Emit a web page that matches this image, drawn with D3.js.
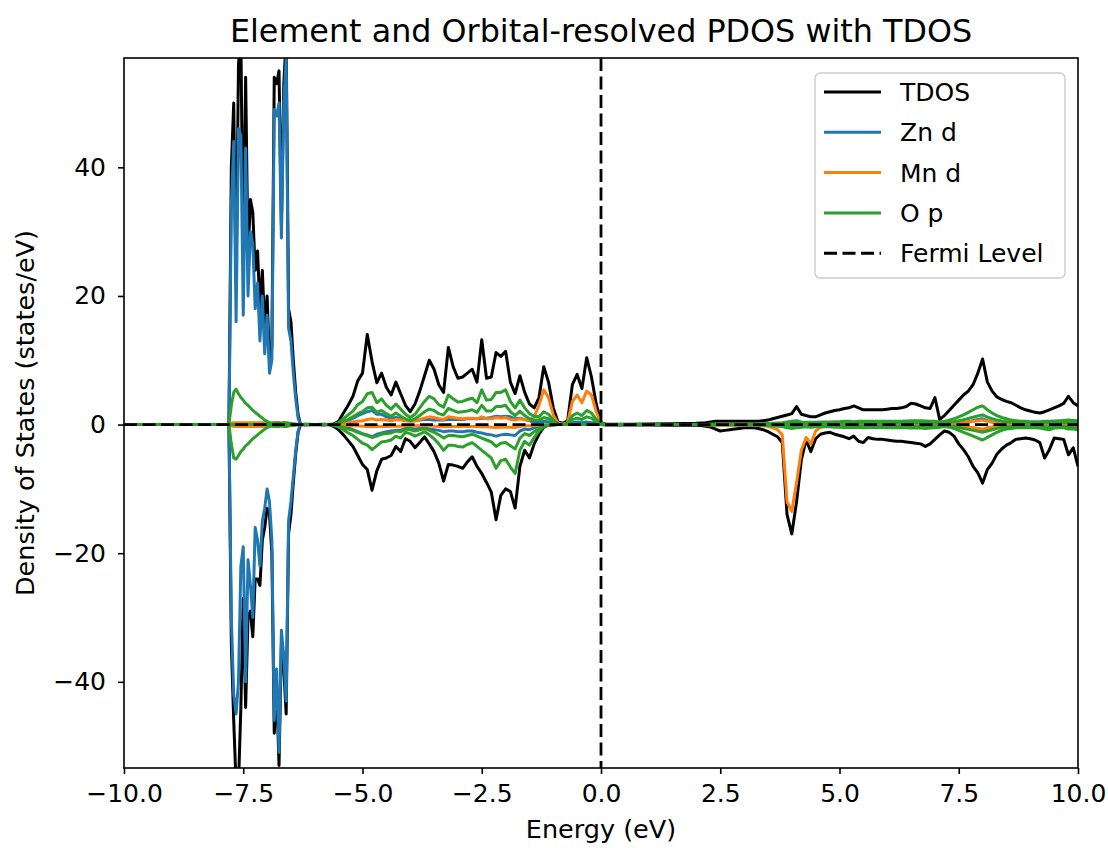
<!DOCTYPE html>
<html><head><meta charset="utf-8">
<script src="https://cdn.jsdelivr.net/npm/d3@7"></script>
<style>body{margin:0;background:#fff;} svg text{font-family:"DejaVu Sans",sans-serif;fill:#000;}</style>
</head><body>
<svg id="chart" width="1108" height="848"></svg>
<script>
// ---------- DATA ----------
const energy = [
  -10,-9,-8,-7.85,
  -7.8,-7.75,-7.7,-7.65,-7.6,-7.55,-7.5,-7.45,-7.4,-7.35,-7.3,-7.25,-7.2,-7.15,-7.1,-7.05,-7,-6.95,-6.9,-6.85,-6.8,-6.75,-6.7,-6.65,-6.6,-6.55,-6.5,-6.45,-6.4,-6.35,-6.3,
  -6.2,-6,-5.8,
  -5.7,-5.6,-5.5,-5.4,-5.3,-5.2,-5.1,-5,-4.9,-4.8,
  -4.7,-4.6,-4.5,-4.4,-4.3,-4.2,-4.1,-4,-3.9,-3.8,
  -3.7,-3.6,-3.5,-3.4,-3.3,-3.2,-3.1,-3,-2.9,-2.8,
  -2.7,-2.6,-2.5,-2.4,-2.3,-2.2,-2.1,-2,-1.9,-1.8,
  -1.7,-1.6,-1.5,-1.4,-1.3,-1.2,-1.1,-1,-0.9,-0.8,
  -0.7,-0.6,-0.5,-0.4,-0.3,-0.2,-0.1,0,
  0.1,0.3,0.6,1,1.5,
  2,2.1,2.2,2.3,2.4,2.5,2.6,2.7,2.8,2.9,
  3,3.1,3.2,3.3,3.4,3.5,3.6,3.7,3.8,3.9,
  4,4.1,4.2,4.3,4.4,4.5,4.6,4.7,4.8,4.9,
  5,5.1,5.2,5.3,5.4,5.5,5.6,5.7,5.8,5.9,
  6,6.1,6.2,6.3,6.4,6.5,6.6,6.7,6.8,6.9,
  7,7.1,7.2,7.3,7.4,7.5,7.6,7.7,7.8,7.9,
  8,8.1,8.2,8.3,8.4,8.5,8.6,8.7,8.8,8.9,
  9,9.1,9.2,9.3,9.4,9.5,9.6,9.7,9.8,9.9,
  10
];

const tdosUp = [
  0,0,0,0,
  0,40,50,22,56,60,25,54,26,35,33,24,27,18,24,15,20,10,12,54,53,55,31,53,60,18,16,10,5,1.5,0,
  0.05,0,0.05,
  0,0.1,0.5,1.8,3.0,4.4,6.8,8.0,14.0,9.8,
  6.5,8.0,5.8,4.6,6.6,4.8,3.0,2.0,3.2,5.2,
  7.6,10.0,8.6,6.2,5.0,12.0,9.0,7.2,7.4,8.0,
  8.6,6.6,13.2,7.2,7.4,11.2,10.6,11.4,6.6,4.8,
  7.6,5.0,3.2,2.6,4.2,9.0,6.6,2.6,0.4,0.2,
  0.6,6.2,7.8,5.6,10.4,7.4,3.2,0.3,
  0.05,0.05,0.05,0.08,0.12,
  0.2,0.25,0.3,0.4,0.5,0.5,0.5,0.5,0.5,0.5,
  0.5,0.5,0.5,0.5,0.6,0.7,0.9,1.1,1.3,1.5,
  1.7,2.8,1.6,1.4,1.2,1.2,1.5,1.8,2.0,2.2,
  2.3,2.5,2.6,2.9,2.6,2.3,2.3,2.3,2.3,2.3,
  2.4,2.5,2.5,2.6,2.8,3.3,3.2,2.9,2.6,2.5,
  4.2,0.8,1.4,2.2,3.0,3.8,4.6,5.2,6.2,8.0,
  10.2,6.6,5.2,4.3,3.9,3.6,3.4,3.0,2.6,2.3,
  2.1,1.9,1.8,2.0,2.3,2.6,2.9,3.3,4.4,3.4,
  2.9
];
const tdosDown = [
  0,0,0,0,
  0,-34,-46,-56,-56,-44,-27,-44,-30,-29,-33,-24,-24,-25,-18,-16,-13,-14,-20,-48,-41,-53,-34,-38,-45,-17,-14,-9,-4.5,-1.2,0,
  -0.05,0,-0.05,
  0,-0.3,-0.8,-1.6,-2.5,-3.4,-4.8,-6.2,-7.0,-10.2,
  -7.2,-5.4,-5.2,-4.8,-3.4,-4.2,-2.2,-2.6,-3.6,-2.8,
  -1.9,-3.0,-4.2,-6.0,-8.8,-6.2,-6.3,-6.5,-6.8,-5.8,
  -5.0,-6.5,-7.6,-9.0,-10.5,-14.8,-11.0,-10.0,-10.4,-13.0,
  -6.5,-4.0,-5.2,-3.0,-1.5,-0.4,-0.1,-0.05,0,0,
  0,0,0,0,0,0,0,0,
  -0.05,-0.05,-0.05,-0.08,-0.12,
  -0.1,-0.15,-0.25,-0.4,-0.7,-1.0,-0.9,-0.8,-0.7,-0.6,
  -0.5,-0.5,-0.5,-0.6,-0.8,-1.1,-1.5,-1.9,-2.8,-14.0,
  -17.0,-12.0,-5.5,-2.4,-4.2,-2.2,-1.5,-1.3,-1.2,-1.5,
  -1.7,-1.9,-2.2,-1.8,-2.6,-2.8,-2.0,-2.2,-2.3,-2.3,
  -2.4,-2.5,-2.6,-2.6,-2.7,-2.8,-2.9,-3.0,-3.4,-3.0,
  -2.3,-1.6,-1.0,-1.2,-1.8,-3.0,-3.9,-5.0,-6.5,-7.5,
  -9.1,-7.0,-6.0,-4.6,-3.8,-3.2,-2.8,-2.3,-2.2,-2.1,
  -2.2,-2.4,-2.8,-5.2,-3.9,-2.1,-2.2,-2.3,-4.7,-3.6,
  -6.5
];

const znUp = [
  0,0,0,0,
  0,34,44,16,46,45,17,43,20,30,28,18,22,13,20,11,17,8,10,49,48,50,29,50,57,15,13,8,4,1,0,
  0,0,0,
  0,0,0.1,0.3,0.6,1.0,1.4,1.7,2.0,2.2,
  1.6,1.6,1.2,1.0,1.1,0.9,0.7,0.6,0.6,0.7,
  0.8,0.8,0.7,0.7,0.7,0.8,0.8,0.8,0.8,0.9,
  0.9,0.9,1.0,1.0,1.1,1.3,1.2,1.3,1.2,0.9,
  1.0,0.8,0.6,0.4,0.4,0.5,0.4,0.2,0,0,
  0.05,0.3,0.4,0.3,0.4,0.3,0.2,0,
  0,0,0,0,0,
  0,0,0,0,0,0,0,0,0,0,
  0,0,0,0,0.05,0.05,0.05,0.05,0.05,0.05,
  0.05,0.05,0.05,0.05,0.05,0.05,0.05,0.05,0.05,0.05,
  0.05,0.05,0.05,0.05,0.05,0.05,0.05,0.05,0.05,0.05,
  0.05,0.05,0.05,0.05,0.05,0.05,0.05,0.05,0.05,0.05,
  0.05,0.05,0.05,0.1,0.15,0.2,0.3,0.4,0.6,0.8,
  0.9,0.6,0.4,0.3,0.2,0.15,0.1,0.05,0.05,0.05,
  0.05,0.05,0.05,0.05,0.05,0.05,0.05,0.05,0.05,0.05,
  0.05
];
const znDown = [
  0,0,0,0,
  0,-30,-42,-45,-40,-22,-19,-40,-21,-25,-30,-16,-18,-22,-15,-13,-10,-12,-18,-46,-38,-51,-32,-36,-43,-15,-12,-8,-4,-1,0,
  0,0,0,
  0,0,-0.1,-0.3,-0.5,-0.8,-1.1,-1.4,-1.6,-1.9,
  -1.5,-1.3,-1.1,-1.0,-0.9,-0.9,-0.6,-0.6,-0.7,-0.6,
  -0.5,-0.7,-0.8,-0.9,-1.1,-1.0,-1.0,-1.1,-1.1,-1.0,
  -1.0,-1.2,-1.3,-1.5,-1.6,-1.8,-1.6,-1.5,-1.6,-1.7,
  -1.0,-0.7,-0.8,-0.5,-0.3,-0.1,0,0,0,0,
  0,0,0,0,0,0,0,0,
  0,0,0,0,0,
  0,0,0,0,0,0,0,0,0,0,
  0,0,0,0,-0.05,-0.05,-0.05,-0.05,-0.05,-0.05,
  -0.05,-0.05,-0.05,-0.05,-0.05,-0.05,-0.05,-0.05,-0.05,-0.05,
  -0.05,-0.05,-0.05,-0.05,-0.05,-0.05,-0.05,-0.05,-0.05,-0.05,
  -0.05,-0.05,-0.05,-0.05,-0.05,-0.05,-0.05,-0.05,-0.05,-0.05,
  -0.05,-0.05,-0.05,-0.1,-0.15,-0.2,-0.3,-0.4,-0.5,-0.7,
  -0.8,-0.6,-0.4,-0.3,-0.2,-0.15,-0.1,-0.05,-0.05,-0.05,
  -0.05,-0.05,-0.05,-0.05,-0.05,-0.05,-0.05,-0.05,-0.05,-0.05,
  -0.05
];

const mnUp = [
  0,0,0,0,
  0,0.2,0.3,0.3,0.3,0.3,0.3,0.3,0.3,0.3,0.3,0.3,0.3,0.3,0.3,0.3,0.3,0.2,0.2,0.3,0.3,0.3,0.2,0.3,0.3,0.2,0.2,0.1,0.1,0,0,
  0,0,0,
  0,0,0.1,0.2,0.3,0.4,0.5,0.6,0.8,0.9,
  0.7,0.8,0.7,0.6,0.8,0.7,0.6,0.5,0.6,0.8,
  1.0,1.2,1.1,0.9,0.8,1.2,1.1,1.0,0.9,1.0,
  1.0,0.9,1.2,0.9,0.9,1.1,1.0,1.1,0.8,0.7,
  0.9,0.8,0.7,1.2,3.0,5.4,4.2,1.5,0.2,0.1,
  0.3,3.6,4.6,3.4,5.2,4.6,2.0,0.2,
  0,0,0,0,0,
  0,0,0,0.05,0.05,0.05,0.05,0.05,0.05,0.05,
  0.05,0.05,0.05,0.05,0.05,0.1,0.1,0.1,0.15,0.2,
  0.3,0.4,0.2,0.15,0.1,0.1,0.1,0.1,0.1,0.1,
  0.1,0.1,0.1,0.1,0.1,0.1,0.1,0.1,0.1,0.1,
  0.1,0.1,0.1,0.1,0.1,0.1,0.1,0.1,0.1,0.1,
  0.1,0.1,0.1,0.15,0.2,0.25,0.3,0.4,0.5,0.6,
  0.7,0.5,0.4,0.3,0.2,0.15,0.1,0.1,0.1,0.1,
  0.1,0.1,0.1,0.1,0.1,0.1,0.1,0.1,0.1,0.1,
  0.1
];
const mnDown = [
  0,0,0,0,
  0,-0.2,-0.3,-0.3,-0.3,-0.3,-0.3,-0.3,-0.3,-0.3,-0.3,-0.3,-0.3,-0.3,-0.3,-0.3,-0.3,-0.2,-0.2,-0.3,-0.3,-0.3,-0.2,-0.3,-0.3,-0.2,-0.2,-0.1,-0.1,0,0,
  0,0,0,
  0,0,-0.05,-0.1,-0.15,-0.2,-0.2,-0.25,-0.3,-0.35,
  -0.3,-0.3,-0.3,-0.25,-0.25,-0.25,-0.2,-0.2,-0.2,-0.2,
  -0.2,-0.2,-0.25,-0.3,-0.35,-0.3,-0.3,-0.3,-0.3,-0.3,
  -0.3,-0.3,-0.35,-0.35,-0.4,-0.45,-0.4,-0.4,-0.4,-0.45,
  -0.3,-0.2,-0.2,-0.15,-0.1,-0.05,0,0,0,0,
  0,0,0,0,0,0,0,0,
  0,0,0,0,0,
  0,0,-0.05,-0.05,-0.1,-0.1,-0.1,-0.1,-0.1,-0.1,
  -0.1,-0.1,-0.1,-0.15,-0.2,-0.3,-0.5,-0.8,-1.6,-12.0,
  -13.5,-9.0,-4.0,-2.0,-3.0,-1.0,-0.4,-0.3,-0.2,-0.2,
  -0.2,-0.2,-0.2,-0.2,-0.2,-0.2,-0.2,-0.2,-0.2,-0.2,
  -0.2,-0.2,-0.2,-0.2,-0.2,-0.2,-0.2,-0.2,-0.2,-0.2,
  -0.2,-0.2,-0.2,-0.2,-0.25,-0.3,-0.35,-0.4,-0.5,-0.6,
  -0.7,-0.5,-0.4,-0.3,-0.25,-0.2,-0.2,-0.2,-0.2,-0.2,
  -0.2,-0.2,-0.2,-0.2,-0.2,-0.2,-0.2,-0.2,-0.2,-0.2,
  -0.2
];

// O p: two oxygen sites (legend shows one entry)
const oUp = [
  0,0,0,0,
  0,3,5.0,5.5,4.8,4.2,3.8,3.3,3.0,2.6,2.2,1.9,1.6,1.3,1.0,0.7,0.5,0.3,0.2,0.3,0.3,0.3,0.2,0.3,0.3,0.2,0.1,0.1,0.05,0,0,
  0,0,0,
  0,0.05,0.3,0.9,1.5,2.1,3.1,3.6,4.8,5.0,
  3.4,4.0,3.0,2.4,3.2,2.4,1.6,1.1,1.6,2.6,
  3.6,4.4,4.0,3.1,2.7,4.6,4.0,3.5,3.6,3.9,
  4.1,3.4,5.4,3.8,3.9,5.0,5.0,5.4,3.6,2.6,
  3.8,2.6,1.7,1.3,1.2,2.0,1.6,0.7,0.1,0.05,
  0.15,1.4,1.8,1.4,2.2,1.8,0.8,0.1,
  0,0,0,0,0,
  0,0,0,0.05,0.05,0.05,0.05,0.05,0.05,0.05,
  0.05,0.05,0.05,0.1,0.1,0.15,0.2,0.25,0.3,0.4,
  0.5,0.6,0.4,0.35,0.35,0.35,0.4,0.4,0.4,0.45,
  0.45,0.5,0.5,0.45,0.5,0.5,0.5,0.5,0.5,0.5,
  0.5,0.5,0.5,0.5,0.55,0.6,0.6,0.6,0.55,0.5,
  0.5,0.4,0.5,0.7,0.9,1.2,1.5,1.9,2.3,2.7,
  2.9,2.3,1.8,1.4,1.1,0.9,0.7,0.6,0.5,0.5,
  0.45,0.45,0.45,0.5,0.5,0.55,0.6,0.65,0.7,0.65,
  0.6
];
const oDown = [
  0,0,0,0,
  0,-3,-5.2,-5.4,-4.8,-4.2,-3.8,-3.3,-3.0,-2.6,-2.2,-1.9,-1.6,-1.3,-1.0,-0.7,-0.5,-0.3,-0.2,-0.3,-0.3,-0.3,-0.2,-0.3,-0.3,-0.2,-0.1,-0.1,-0.05,0,0,
  0,0,0,
  0,-0.15,-0.4,-0.8,-1.3,-1.7,-2.3,-2.9,-3.2,-3.9,
  -3.3,-2.7,-2.6,-2.4,-1.8,-2.1,-1.2,-1.4,-1.8,-1.5,
  -1.1,-1.6,-2.2,-3.0,-4.0,-3.2,-3.2,-3.4,-3.5,-3.1,
  -2.8,-3.4,-4.0,-4.6,-5.2,-6.8,-5.6,-5.4,-6.6,-7.6,
  -4.0,-2.6,-3.2,-2.0,-1.0,-0.3,-0.1,0,0,0,
  0,0,0,0,0,0,0,0,
  0,0,0,0,0,
  0,0,0,-0.05,-0.05,-0.05,-0.05,-0.05,-0.05,-0.05,
  -0.05,-0.05,-0.05,-0.1,-0.1,-0.15,-0.2,-0.25,-0.3,-0.5,
  -0.6,-0.5,-0.4,-0.35,-0.4,-0.35,-0.35,-0.35,-0.35,-0.4,
  -0.4,-0.45,-0.45,-0.45,-0.45,-0.5,-0.45,-0.45,-0.45,-0.45,
  -0.5,-0.5,-0.5,-0.5,-0.5,-0.55,-0.55,-0.55,-0.6,-0.55,
  -0.5,-0.4,-0.3,-0.4,-0.6,-0.9,-1.2,-1.5,-1.8,-2.1,
  -2.4,-2.0,-1.6,-1.2,-0.9,-0.7,-0.6,-0.5,-0.5,-0.5,
  -0.5,-0.5,-0.55,-0.7,-0.8,-0.55,-0.5,-0.5,-0.7,-0.7,
  -0.8
];
const o2Up = [
  0,0,0,0,
  0,0,0,0,0,0,0,0,0,0,0,0,0,0,0,0,0,0,0,0,0,0,0,0,0,0,0,0,0,0,0,
  0,0,0,
  0,0,0.2,0.5,0.8,1.2,1.7,2.0,2.6,2.7,
  1.9,2.2,1.7,1.3,1.8,1.3,0.9,0.6,0.9,1.4,
  2.0,2.4,2.2,1.7,1.5,2.5,2.2,1.9,2.0,2.1,
  2.3,1.9,3.0,2.1,2.1,2.8,2.8,3.0,2.0,1.4,
  2.1,1.4,0.9,0.7,0.7,1.1,0.9,0.4,0.05,0,
  0.1,0.8,1.0,0.8,1.2,1.0,0.4,0,
  0,0,0,0,0,
  0,0,0,0,0,0,0,0,0,0,
  0,0,0,0.05,0.05,0.08,0.1,0.12,0.15,0.2,
  0.25,0.3,0.2,0.18,0.18,0.18,0.2,0.2,0.2,0.22,
  0.22,0.25,0.25,0.22,0.25,0.25,0.25,0.25,0.25,0.25,
  0.25,0.25,0.25,0.25,0.28,0.3,0.3,0.3,0.28,0.25,
  0.25,0.2,0.25,0.35,0.45,0.6,0.75,0.95,1.15,1.35,
  1.5,1.15,0.9,0.7,0.55,0.45,0.35,0.3,0.25,0.25,
  0.22,0.22,0.22,0.25,0.25,0.28,0.3,0.32,0.35,0.32,
  0.3
];
const o2Down = [
  0,0,0,0,
  0,0,0,0,0,0,0,0,0,0,0,0,0,0,0,0,0,0,0,0,0,0,0,0,0,0,0,0,0,0,0,
  0,0,0,
  0,-0.1,-0.2,-0.45,-0.7,-0.9,-1.2,-1.5,-1.7,-2.0,
  -1.8,-1.5,-1.4,-1.3,-1.0,-1.1,-0.7,-0.8,-1.0,-0.8,
  -0.6,-0.9,-1.2,-1.6,-2.1,-1.7,-1.7,-1.8,-1.9,-1.7,
  -1.5,-1.8,-2.1,-2.4,-2.7,-3.4,-2.9,-2.8,-3.3,-3.8,
  -2.1,-1.4,-1.7,-1.1,-0.6,-0.2,-0.05,0,0,0,
  0,0,0,0,0,0,0,0,
  0,0,0,0,0,
  0,0,0,0,0,0,0,0,0,0,
  0,0,0,-0.05,-0.05,-0.08,-0.1,-0.12,-0.15,-0.25,
  -0.3,-0.25,-0.2,-0.18,-0.2,-0.18,-0.18,-0.18,-0.18,-0.2,
  -0.2,-0.22,-0.22,-0.22,-0.22,-0.25,-0.22,-0.22,-0.22,-0.22,
  -0.25,-0.25,-0.25,-0.25,-0.25,-0.28,-0.28,-0.28,-0.3,-0.28,
  -0.25,-0.2,-0.15,-0.2,-0.3,-0.45,-0.6,-0.75,-0.9,-1.05,
  -1.2,-1.0,-0.8,-0.6,-0.45,-0.35,-0.3,-0.25,-0.25,-0.25,
  -0.25,-0.25,-0.28,-0.35,-0.4,-0.28,-0.25,-0.25,-0.35,-0.35,
  -0.4
];

const xTicks = [-10, -7.5, -5, -2.5, 0, 2.5, 5, 7.5, 10];
const yTicks = [-40, -20, 0, 20, 40];
const legendLabels = ["TDOS", "Zn d", "Mn d", "O p", "Fermi Level"];
const fermiEnergy = 0;
const titleText = "Element and Orbital-resolved PDOS with TDOS";
const xLabel = "Energy (eV)";
const yLabel = "Density of States (states/eV)";

// ---------- CHART ----------
const W = 1108, H = 848;
const m = {left: 124, right: 30, top: 58, bottom: 80};
const pw = W - m.left - m.right, ph = H - m.top - m.bottom;
const svg = d3.select("#chart");
const x = d3.scaleLinear().domain([-10, 10]).range([m.left, m.left + pw]);
const y = d3.scaleLinear().domain([-53.4, 57.0]).range([m.top + ph, m.top]);

const colors = {tdos: "#000000", zn: "#1f77b4", mn: "#ff7f0e", o: "#2ca02c"};
const series = [
  {vals: tdosUp, c: colors.tdos}, {vals: tdosDown, c: colors.tdos},
  {vals: znUp, c: colors.zn}, {vals: znDown, c: colors.zn},
  {vals: mnUp, c: colors.mn}, {vals: mnDown, c: colors.mn},
  {vals: o2Up, c: colors.o}, {vals: o2Down, c: colors.o},
  {vals: oUp, c: colors.o}, {vals: oDown, c: colors.o}
];

svg.append("defs").append("clipPath").attr("id", "clip")
  .append("rect").attr("x", m.left).attr("y", m.top).attr("width", pw).attr("height", ph);

const plot = svg.append("g").attr("clip-path", "url(#clip)");
const line = d3.line().x((d, i) => x(energy[i])).y(d => y(d));
series.forEach(s => {
  plot.append("path").datum(s.vals).attr("d", line)
    .attr("fill", "none").attr("stroke", s.c).attr("stroke-width", 3)
    .attr("stroke-linejoin", "round");
});

// zero line and Fermi level
plot.append("line").attr("x1", m.left).attr("x2", m.left + pw).attr("y1", y(0)).attr("y2", y(0))
  .attr("stroke", "#000").attr("stroke-width", 2.8).attr("stroke-dasharray", "13,5.5");
plot.append("line").attr("x1", x(fermiEnergy)).attr("x2", x(fermiEnergy)).attr("y1", m.top).attr("y2", m.top + ph)
  .attr("stroke", "#000").attr("stroke-width", 2.8).attr("stroke-dasharray", "13,5.5");

// axes
const fmtX = d3.format(".1f"), fmtY = d3.format("d");
const gx = svg.append("g").attr("transform", `translate(0,${m.top + ph})`)
  .call(d3.axisBottom(x).tickValues(xTicks).tickFormat(fmtX).tickSize(6).tickPadding(10));
const gy = svg.append("g").attr("transform", `translate(${m.left},0)`)
  .call(d3.axisLeft(y).tickValues(yTicks).tickFormat(fmtY).tickSize(6).tickPadding(12));
[gx, gy].forEach(g => {
  g.select(".domain").remove();
  g.selectAll(".tick line").attr("stroke", "#000").attr("stroke-width", 1.6);
  g.selectAll(".tick text").attr("font-size", 25).attr("font-family", "DejaVu Sans").attr("fill", "#000");
});
svg.append("rect").attr("x", m.left).attr("y", m.top).attr("width", pw).attr("height", ph)
  .attr("fill", "none").attr("stroke", "#000").attr("stroke-width", 1.6);

// labels
svg.append("text").attr("x", m.left + pw / 2).attr("y", 42).attr("text-anchor", "middle")
  .attr("font-size", 31.8).text(titleText);
svg.append("text").attr("x", m.left + pw / 2).attr("y", 838).attr("text-anchor", "middle")
  .attr("font-size", 25.5).text(xLabel);
svg.append("text").attr("transform", `translate(34,${m.top + ph / 2}) rotate(-90)`)
  .attr("text-anchor", "middle").attr("font-size", 25.5).text(yLabel);

// legend
const lg = svg.append("g").attr("transform", "translate(815,73)");
lg.append("rect").attr("width", 250).attr("height", 205).attr("rx", 5)
  .attr("fill", "#fff").attr("fill-opacity", 0.85).attr("stroke", "#cccccc").attr("stroke-width", 1.4);
const legendColors = [colors.tdos, colors.zn, colors.mn, colors.o, "#000"];
legendLabels.forEach((lab, i) => {
  const yy = 19 + i * 40.3;
  lg.append("line").attr("x1", 9).attr("x2", 66).attr("y1", yy).attr("y2", yy)
    .attr("stroke", legendColors[i]).attr("stroke-width", 3)
    .attr("stroke-dasharray", i === 4 ? "13,5.5" : null);
  lg.append("text").attr("x", 85).attr("y", yy).attr("dy", "0.36em")
    .attr("font-size", 25).text(lab);
});

// sanity check on array lengths
const bad = series.filter(s => s.vals.length !== energy.length);
if (bad.length) svg.append("text").attr("x", 400).attr("y", 300).attr("fill", "red").text("LEN MISMATCH " + bad.map(s => s.vals.length).join(",") + " vs " + energy.length);
</script>
</body></html>
